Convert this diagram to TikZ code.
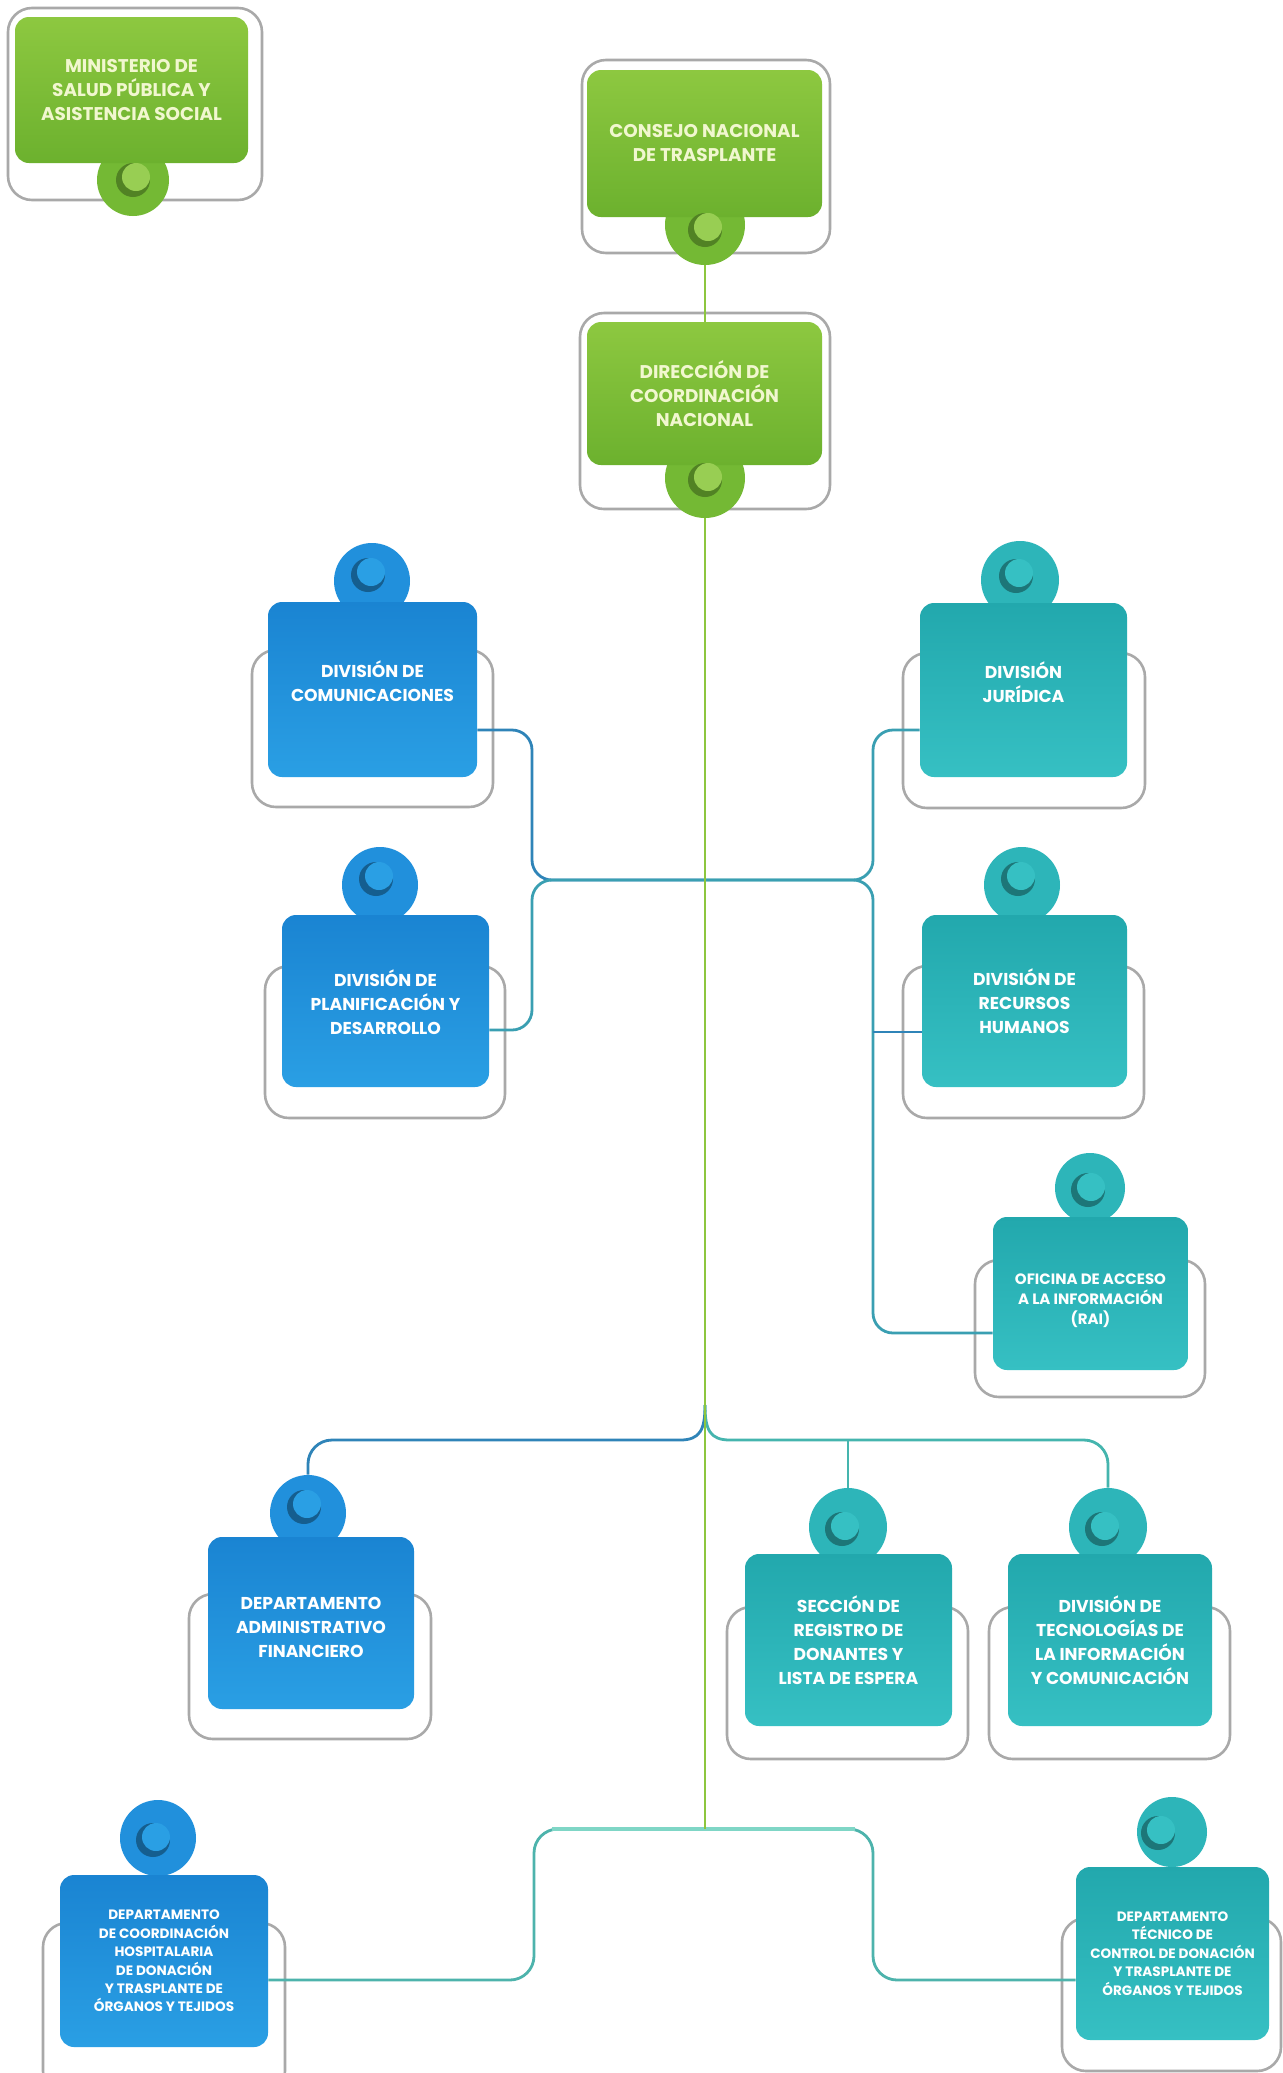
\documentclass[tikz,border=0pt]{standalone}
\usepackage{fontspec}
\setmainfont{Poppins}
\usetikzlibrary{calc}
\definecolor{grTop}{HTML}{8DC840}
\definecolor{grBot}{HTML}{6CB12E}
\definecolor{grPin}{HTML}{74B934}
\definecolor{blTop}{HTML}{1A84D2}
\definecolor{blBot}{HTML}{2A9FE4}
\definecolor{blPin}{HTML}{2190DC}
\definecolor{tlTop}{HTML}{22A8AD}
\definecolor{tlBot}{HTML}{36C0C3}
\definecolor{tlPin}{HTML}{2DB5B9}
\definecolor{gtext}{HTML}{F1F7CF}
\definecolor{frameC}{HTML}{A9A9A9}
\definecolor{gline}{HTML}{8DC63F}
\definecolor{cBlue}{HTML}{2F84B8}
\definecolor{cTeal}{HTML}{3A9FB2}
\definecolor{cFork}{HTML}{45B5AE}
\definecolor{cBot}{HTML}{4DB3AC}
\definecolor{cMint}{HTML}{7FD6C6}
\pgfdeclarelayer{bg}
\pgfdeclarelayer{lines}
\pgfsetlayers{bg,lines,main}
\newcommand\pinmark[3]{%
  \fill[#2] ($(#1)$) circle[radius=8.5pt];
  \fill[#3] ($(#1)+(3,-3)$) circle[radius=7pt];}
\begin{document}
\begin{tikzpicture}[x=0.5pt,y=-0.5pt,
  box/.style={rounded corners=7pt, inner sep=0pt, align=center, text=white},
  gbox/.style={box, top color=grTop, bottom color=grBot, text=gtext},
  bbox/.style={box, top color=blTop, bottom color=blBot},
  tbox/.style={box, top color=tlTop, bottom color=tlBot},
  frame/.style={draw=frameC, line width=1.3pt, fill=white, rounded corners=12pt},
  pin/.style={circle, inner sep=0pt},
  conn/.style={line width=1.4pt},
  fG/.style={font=\fontsize{9.2}{12}\selectfont\bfseries},
  fB/.style={font=\fontsize{8.6}{12}\selectfont\bfseries},
  fO/.style={font=\fontsize{7.5}{10}\selectfont\bfseries},
  fS/.style={font=\fontsize{6.8}{9.2}\selectfont\bfseries}]
\useasboundingbox (0,0) rectangle (1283,2073);

% ---------- frames ----------
\begin{pgfonlayer}{bg}
\fill[white] (0,0) rectangle (1283,2073);
\draw[frame] (8,8) rectangle (262,200);
\draw[frame] (582,60) rectangle (830,253);
\draw[frame] (580,313) rectangle (830,509);
\draw[frame] (252,650) rectangle (493,807);
\draw[frame] (903,653) rectangle (1145,808);
\draw[frame] (265,966) rectangle (505,1118);
\draw[frame] (903,966) rectangle (1144,1118);
\draw[frame] (975,1260) rectangle (1205,1397);
\draw[frame] (189,1594) rectangle (431,1739);
\draw[frame] (727,1607) rectangle (968,1759);
\draw[frame] (989,1607) rectangle (1230,1759);
\draw[frame] (43,1923) rectangle (285,2095);
\draw[frame] (1062,1918) rectangle (1281,2071);
\end{pgfonlayer}

% ---------- pins ----------
\node[pin, fill=grPin, minimum size=36pt] (msppin) at (133,180) {};
\node[pin, fill=grPin, minimum size=40pt] (cntpin) at (705,225) {};
\node[pin, fill=grPin, minimum size=40pt] (dcnpin) at (705,478) {};
\node[pin, fill=blPin, minimum size=38pt] (compin) at (372,581) {};
\node[pin, fill=tlPin, minimum size=39pt] (jurpin) at (1020,580) {};
\node[pin, fill=blPin, minimum size=38pt] (planpin) at (380,885) {};
\node[pin, fill=tlPin, minimum size=38pt] (rrhhpin) at (1022,885) {};
\node[pin, fill=tlPin, minimum size=35pt] (ofipin) at (1090,1188) {};
\node[pin, fill=blPin, minimum size=38pt] (admpin) at (308,1513) {};
\node[pin, fill=tlPin, minimum size=39pt] (secpin) at (848,1527) {};
\node[pin, fill=tlPin, minimum size=39pt] (ticpin) at (1108,1527) {};
\node[pin, fill=blPin, minimum size=38pt] (dchpin) at (158,1838) {};
\node[pin, fill=tlPin, minimum size=35pt] (dtcpin) at (1172,1832) {};

% ---------- boxes ----------
\node[gbox, fG, minimum width=116.5pt, minimum height=73pt] (msp) at (131.5,90)
  {MINISTERIO DE\\SALUD PÚBLICA Y\\ASISTENCIA SOCIAL};
\node[gbox, fG, minimum width=117.5pt, minimum height=73.5pt] (cnt) at (704.5,143.5)
  {CONSEJO NACIONAL\\DE TRASPLANTE};
\node[gbox, fG, minimum width=117.5pt, minimum height=71.5pt] (dcn) at (704.5,393.5)
  {DIRECCIÓN DE\\COORDINACIÓN\\NACIONAL};
\node[bbox, fB, minimum width=104.5pt, minimum height=87.5pt] (com) at (372.5,689.5)
  {DIVISIÓN DE\\COMUNICACIONES\\[-4pt]\mbox{}};
\node[tbox, fB, minimum width=103.5pt, minimum height=87pt] (jur) at (1023.5,690)
  {DIVISIÓN\\JURÍDICA\\[-4pt]\mbox{}};
\node[bbox, fB, minimum width=103.5pt, minimum height=86pt] (plan) at (385.5,1001)
  {\mbox{}\\[-2pt]DIVISIÓN DE\\PLANIFICACIÓN Y\\DESARROLLO};
\node[tbox, fB, minimum width=102.5pt, minimum height=86pt] (rrhh) at (1024.5,1001)
  {DIVISIÓN DE\\RECURSOS\\HUMANOS};
\node[tbox, fO, minimum width=97.5pt, minimum height=76.5pt] (ofi) at (1090.5,1293.5)
  {\mbox{}\\[2.5pt]OFICINA DE ACCESO\\A LA INFORMACIÓN\\(RAI)};
\node[bbox, fB, minimum width=103pt, minimum height=86pt] (adm) at (311,1623)
  {\mbox{}\\[-1pt]DEPARTAMENTO\\ADMINISTRATIVO\\FINANCIERO};
\node[tbox, fB, minimum width=103.5pt, minimum height=86pt] (sec) at (848.5,1640)
  {SECCIÓN DE\\REGISTRO DE\\DONANTES Y\\LISTA DE ESPERA};
\node[tbox, fB, minimum width=102pt, minimum height=86pt] (tic) at (1110,1640)
  {DIVISIÓN DE\\TECNOLOGÍAS DE\\LA INFORMACIÓN\\Y COMUNICACIÓN};
\node[bbox, fS, minimum width=104pt, minimum height=86pt] (dch) at (164,1961)
  {DEPARTAMENTO\\DE COORDINACIÓN\\HOSPITALARIA\\DE DONACIÓN\\Y TRASPLANTE DE\\ÓRGANOS Y TEJIDOS};
\node[tbox, fS, minimum width=96.5pt, minimum height=86.5pt] (dtc) at (1172.5,1953.5)
  {DEPARTAMENTO\\TÉCNICO DE\\CONTROL DE DONACIÓN\\Y TRASPLANTE DE\\ÓRGANOS Y TEJIDOS};

% ---------- pin marks ----------
\pinmark{msppin.center}{grPin!70!black}{grTop!90!white}
\pinmark{$(cntpin.center)+(0,5)$}{grPin!70!black}{grTop!90!white}
\pinmark{$(dcnpin.center)+(0,2)$}{grPin!70!black}{grTop!90!white}
\pinmark{$(compin.center)+(-4,-6)$}{blPin!65!black}{blBot}
\pinmark{$(jurpin.center)+(-4,-4)$}{tlPin!65!black}{tlBot}
\pinmark{$(planpin.center)+(-4,-6)$}{blPin!65!black}{blBot}
\pinmark{$(rrhhpin.center)+(-4,-6)$}{tlPin!65!black}{tlBot}
\pinmark{$(ofipin.center)+(-2,2)$}{tlPin!65!black}{tlBot}
\pinmark{$(admpin.center)+(-4,-6)$}{blPin!65!black}{blBot}
\pinmark{$(secpin.center)+(-6,2)$}{tlPin!65!black}{tlBot}
\pinmark{$(ticpin.center)+(-6,2)$}{tlPin!65!black}{tlBot}
\pinmark{$(dchpin.center)+(-5,2)$}{blPin!65!black}{blBot}
\pinmark{$(dtcpin.center)+(-14,1)$}{tlPin!65!black}{tlBot}

% ---------- connectors ----------
\coordinate (hub) at (705,880);
\coordinate (fork) at (705,1405);
\coordinate (bot) at (705,1829);
\begin{pgfonlayer}{lines}
% upper H bracket
\draw[conn, cBlue, rounded corners=10pt] (com.east |- 0,730) -- (532,730) -- (532,880) -- (hub);
\draw[conn, cTeal, rounded corners=10pt] (plan.east |- 0,1030) -- (532,1030) -- (532,880) -- (hub);
\draw[conn, cTeal, rounded corners=10pt] (jur.west |- 0,730) -- (873,730) -- (873,880) -- (hub);
\draw[conn, cTeal, rounded corners=10pt] (hub) -- (873,880) -- (873,1333) -- (ofi.west |- 0,1333);
\draw[conn, cBlue] (873,1032) -- (rrhh.west |- 0,1032);
% middle fork
\draw[conn, cBlue] (fork) .. controls (705,1430) and (700,1440) .. (680,1440)
  [rounded corners=12pt] -- (admpin.north |- 0,1440) -- (admpin.north);
\draw[conn, cFork] (fork) .. controls (705,1430) and (710,1440) .. (730,1440)
  [rounded corners=12pt] -- (ticpin.north |- 0,1440) -- (ticpin.north);
\draw[conn, cFork] (secpin.north |- 0,1440) -- (secpin.north);
% bottom bracket
\draw[conn, cBot, rounded corners=12pt] (dch.east |- 0,1980) -- (534,1980) -- (534,1829)
  -- (873,1829) -- (873,1980) -- (dtc.west |- 0,1980);
\draw[line width=2.2pt, cMint] (552,1829) -- (855,1829);
% green trunk
\draw[conn, gline] (cntpin.south) -- (cntpin.south |- dcn.north);
\draw[conn, gline] (dcnpin.south) -- (bot);
\end{pgfonlayer}
\end{tikzpicture}
\end{document}
